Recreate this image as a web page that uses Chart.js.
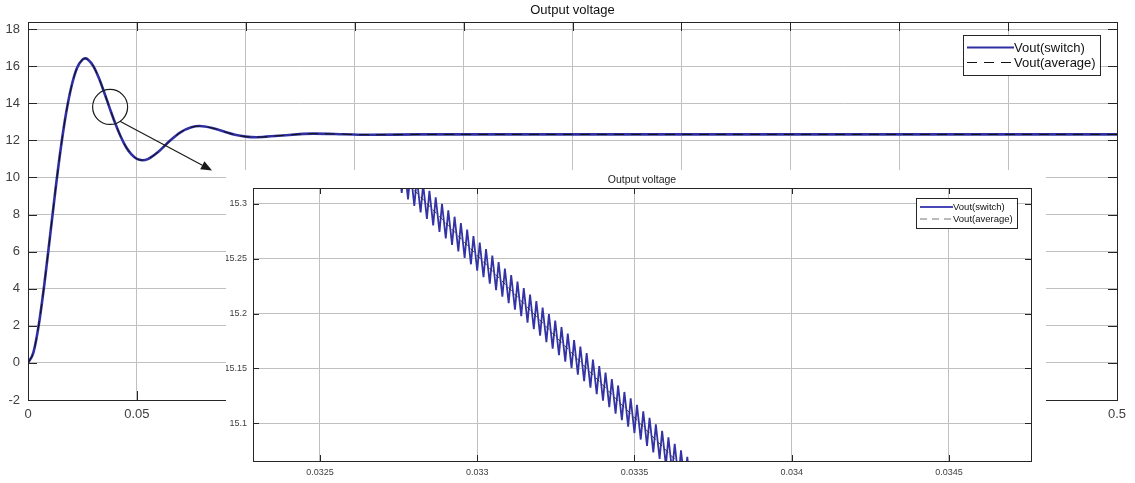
<!DOCTYPE html>
<html>
<head>
<meta charset="utf-8">
<title>Output voltage</title>
<script src="https://cdn.jsdelivr.net/npm/chart.js@4.4.1/dist/chart.umd.min.js"></script>
<style>
  body { margin: 0; background: #fff; }
  #wrap { position: relative; width: 1135px; height: 483px; }
  #wrap canvas { display: block; }
  #inset { position: absolute; left: 226px; top: 170px; width: 820px; height: 313px; background: #fff; }
</style>
</head>
<body>
<div id="wrap">
  <canvas id="mainChart" width="1135" height="483"></canvas>
  <div id="inset"><canvas id="zoomChart" width="820" height="313"></canvas></div>
</div>
<script>
// main plot: output voltage over the whole run (s, V)
const tMain = [0, 0.0025, 0.005, 0.0075, 0.01, 0.0125, 0.015, 0.0175, 0.02, 0.0225,
  0.025, 0.0263, 0.0275, 0.03, 0.0325, 0.035, 0.0375, 0.04, 0.0425, 0.045,
  0.0475, 0.05, 0.0525, 0.055, 0.06, 0.065, 0.07, 0.075, 0.0787, 0.085,
  0.09, 0.095, 0.1, 0.105, 0.115, 0.131, 0.145, 0.157, 0.18, 0.2,
  0.25, 0.3, 0.35, 0.4, 0.45, 0.5];
const vSwitch = [0, 0.57, 2.09, 4.24, 6.71, 9.22, 11.53, 13.47, 14.93, 15.9,
  16.35, 16.42, 16.36, 16.0, 15.37, 14.58, 13.74, 12.93, 12.22, 11.64,
  11.24, 11.0, 10.93, 10.99, 11.4, 11.96, 12.43, 12.7, 12.77, 12.65,
  12.47, 12.3, 12.2, 12.17, 12.25, 12.36, 12.33, 12.3, 12.32, 12.32,
  12.32, 12.32, 12.32, 12.32, 12.32, 12.32];
// the averaged model sits on top of the switched one at this scale
const vAverage = vSwitch;

// zoomed view around t = 33 ms: switched model, trough then peak of each cycle
const tRipple = [
  0.032700, 0.032708, 0.032720, 0.032728, 0.032740, 0.032748, 0.032760, 0.032768,
  0.032780, 0.032788, 0.032800, 0.032808, 0.032820, 0.032828, 0.032840, 0.032848,
  0.032860, 0.032868, 0.032880, 0.032888, 0.032900, 0.032908, 0.032920, 0.032928,
  0.032940, 0.032948, 0.032960, 0.032968, 0.032980, 0.032988, 0.033000, 0.033008,
  0.033020, 0.033028, 0.033040, 0.033048, 0.033060, 0.033068, 0.033080, 0.033088,
  0.033100, 0.033108, 0.033120, 0.033128, 0.033140, 0.033148, 0.033160, 0.033168,
  0.033180, 0.033188, 0.033200, 0.033208, 0.033220, 0.033228, 0.033240, 0.033248,
  0.033260, 0.033268, 0.033280, 0.033288, 0.033300, 0.033308, 0.033320, 0.033328,
  0.033340, 0.033348, 0.033360, 0.033368, 0.033380, 0.033388, 0.033400, 0.033408,
  0.033420, 0.033428, 0.033440, 0.033448, 0.033460, 0.033468, 0.033480, 0.033488,
  0.033500, 0.033508, 0.033520, 0.033528, 0.033540, 0.033548, 0.033560, 0.033568,
  0.033580, 0.033588, 0.033600, 0.033608, 0.033620, 0.033628, 0.033640, 0.033648,
  0.033660, 0.033668, 0.033680, 0.033688, 0.033700, 0.033708];
const vRipple = [
  15.32780, 15.35343, 15.32188, 15.34751, 15.31596, 15.34159, 15.31004, 15.33567,
  15.30412, 15.32975, 15.29820, 15.32383, 15.29228, 15.31791, 15.28636, 15.31199,
  15.28044, 15.30607, 15.27452, 15.30015, 15.26860, 15.29423, 15.26268, 15.28831,
  15.25676, 15.28239, 15.25084, 15.27647, 15.24492, 15.27055, 15.23900, 15.26463,
  15.23308, 15.25871, 15.22716, 15.25279, 15.22124, 15.24687, 15.21532, 15.24095,
  15.20940, 15.23503, 15.20348, 15.22911, 15.19756, 15.22319, 15.19164, 15.21727,
  15.18572, 15.21135, 15.17980, 15.20543, 15.17388, 15.19951, 15.16796, 15.19359,
  15.16204, 15.18767, 15.15612, 15.18175, 15.15020, 15.17583, 15.14428, 15.16991,
  15.13836, 15.16399, 15.13244, 15.15807, 15.12652, 15.15215, 15.12060, 15.14623,
  15.11468, 15.14031, 15.10876, 15.13439, 15.10284, 15.12847, 15.09692, 15.12255,
  15.09100, 15.11663, 15.08508, 15.11071, 15.07916, 15.10479, 15.07324, 15.09887,
  15.06732, 15.09295, 15.06140, 15.08703, 15.05548, 15.08111, 15.04956, 15.07519,
  15.04364, 15.06927, 15.03772, 15.06335, 15.03180, 15.05743];
const tAvgZoom = [0.0327, 0.0337];
const vAvgZoom = [15.3418, 15.0458];

const labels = ['Vout(switch)', 'Vout(average)'];

const FONT = '"Liberation Sans", Arial, Helvetica, sans-serif';
Chart.defaults.font.family = FONT;
Chart.defaults.color = '#404040';

function pts(xs, ys) {
  return xs.map((x, i) => ({ x: x, y: ys[i] }));
}
function fmt(v) {
  return String(+Number(v).toFixed(4));
}

// axes box with inward tick marks, like the MATLAB figure
const matlabBox = {
  id: 'matlabBox',
  afterDatasetsDraw(chart, args, o) {
    const { ctx, chartArea: a, scales } = chart;
    ctx.save();
    ctx.strokeStyle = '#262626';
    ctx.lineWidth = 1;
    ctx.beginPath();
    scales.x.ticks.forEach(t => {
      const px = Math.round(scales.x.getPixelForValue(t.value)) + 0.5;
      ctx.moveTo(px, a.bottom); ctx.lineTo(px, a.bottom - o.len);
      ctx.moveTo(px, a.top); ctx.lineTo(px, a.top + o.len);
    });
    scales.y.ticks.forEach(t => {
      const py = Math.round(scales.y.getPixelForValue(t.value)) + 0.5;
      ctx.moveTo(a.left, py); ctx.lineTo(a.left + o.len, py);
      ctx.moveTo(a.right, py); ctx.lineTo(a.right - o.len, py);
    });
    ctx.stroke();
    ctx.strokeRect(Math.round(a.left) + 0.5, Math.round(a.top) + 0.5,
      Math.round(a.right - a.left), Math.round(a.bottom - a.top));
    ctx.restore();
  }
};

// framed legend in the upper right corner of the axes
const boxLegend = {
  id: 'boxLegend',
  afterDraw(chart, args, o) {
    const { ctx, chartArea: a } = chart;
    const sets = chart.data.datasets;
    ctx.save();
    ctx.font = o.size + 'px ' + FONT;
    const textW = Math.max(...sets.map(d => ctx.measureText(d.label).width));
    const w = o.pad + o.sample + textW + o.pad;
    const h = o.rowH * sets.length + o.vpad * 2;
    const x = Math.round(a.right - o.right - w), y = Math.round(a.top + o.top);
    ctx.fillStyle = '#fff';
    ctx.fillRect(x, y, w, h);
    ctx.strokeStyle = '#262626';
    ctx.lineWidth = 1;
    ctx.strokeRect(x + 0.5, y + 0.5, Math.round(w), Math.round(h));
    sets.forEach((d, i) => {
      const cy = y + o.vpad + o.rowH * (i + 0.5);
      ctx.beginPath();
      ctx.strokeStyle = o.colors[i];
      ctx.lineWidth = o.widths[i];
      ctx.setLineDash(o.dashes[i]);
      ctx.moveTo(x + o.pad, cy);
      ctx.lineTo(x + o.pad + o.sample, cy);
      ctx.stroke();
      ctx.setLineDash([]);
      ctx.fillStyle = '#111';
      ctx.textBaseline = 'middle';
      ctx.fillText(d.label, x + o.pad + o.sample, cy + 0.5);
    });
    ctx.restore();
  }
};

// circle on the curve and the arrow pointing to the zoomed view
const zoomMark = {
  id: 'zoomMark',
  afterDatasetsDraw(chart, args, o) {
    const { ctx, scales: { x, y } } = chart;
    const cx = x.getPixelForValue(o.circle[0]), cy = y.getPixelForValue(o.circle[1]);
    const x0 = x.getPixelForValue(o.from[0]), y0 = y.getPixelForValue(o.from[1]);
    const x1 = x.getPixelForValue(o.to[0]), y1 = y.getPixelForValue(o.to[1]);
    ctx.save();
    ctx.strokeStyle = '#1a1a1a';
    ctx.fillStyle = '#1a1a1a';
    ctx.lineWidth = 1.2;
    ctx.beginPath();
    ctx.arc(cx, cy, o.radius, 0, Math.PI * 2);
    ctx.stroke();
    const ang = Math.atan2(y1 - y0, x1 - x0);
    const hl = 11, hw = 4.5;
    const bx = x1 - hl * Math.cos(ang), by = y1 - hl * Math.sin(ang);
    ctx.beginPath();
    ctx.moveTo(x0, y0);
    ctx.lineTo(bx, by);
    ctx.stroke();
    ctx.beginPath();
    ctx.moveTo(x1, y1);
    ctx.lineTo(bx + hw * Math.sin(ang), by - hw * Math.cos(ang));
    ctx.lineTo(bx - hw * Math.sin(ang), by + hw * Math.cos(ang));
    ctx.closePath();
    ctx.fill();
    ctx.restore();
  }
};

const mainChart = new Chart(document.getElementById('mainChart'), {
  type: 'line',
  data: {
    datasets: [
      {
        label: labels[0],
        data: pts(tMain, vSwitch),
        borderColor: '#2f2fa2',
        borderWidth: 2.6,
        pointRadius: 0,
        cubicInterpolationMode: 'monotone',
        order: 2
      },
      {
        label: labels[1],
        data: pts(tMain, vAverage),
        borderColor: '#111',
        borderWidth: 1,
        borderDash: [10, 7],
        pointRadius: 0,
        cubicInterpolationMode: 'monotone',
        order: 1
      }
    ]
  },
  options: {
    responsive: false,
    animation: false,
    layout: { padding: { left: 0, right: 18, top: 0, bottom: 0 } },
    scales: {
      x: {
        type: 'linear',
        min: 0,
        max: 0.5,
        afterFit: s => { s.height = 83; },
        grid: { color: '#c0c0c0', drawTicks: false },
        border: { display: false },
        ticks: { stepSize: 0.05, autoSkip: false, maxRotation: 0, padding: 7,
          font: { size: 13 }, callback: fmt }
      },
      y: {
        min: -2,
        max: 18.38,
        afterFit: s => { s.width = 28; },
        grid: { color: '#c0c0c0', drawTicks: false },
        border: { display: false },
        ticks: { stepSize: 2, includeBounds: false, padding: 8, font: { size: 13 } }
      }
    },
    plugins: {
      title: {
        display: true,
        text: 'Output voltage',
        fullSize: false,
        color: '#111',
        font: { size: 13, weight: 'normal' },
        padding: { top: 3, bottom: 3.4 }
      },
      legend: { display: false },
      tooltip: { enabled: false },
      matlabBox: { len: 9 },
      boxLegend: {
        right: 17, top: 13, size: 13, pad: 4, sample: 47, rowH: 15, vpad: 5,
        colors: ['#2f2fa2', '#111'], widths: [2.2, 1], dashes: [[], [10, 7]]
      },
      zoomMark: {
        circle: [0.0377, 13.8], radius: 17.5,
        from: [0.0422, 13.03], to: [0.0845, 10.38]
      }
    }
  },
  plugins: [matlabBox, zoomMark, boxLegend]
});

const zoomChart = new Chart(document.getElementById('zoomChart'), {
  type: 'line',
  data: {
    datasets: [
      {
        label: labels[0],
        data: pts(tRipple, vRipple),
        borderColor: '#3333a6',
        borderWidth: 1.8,
        pointRadius: 0,
        tension: 0,
        clip: 0,
        order: 2
      },
      {
        label: labels[1],
        data: pts(tAvgZoom, vAvgZoom),
        borderColor: '#222',
        borderWidth: 0.9,
        borderDash: [5, 4],
        pointRadius: 0,
        clip: 0,
        order: 1
      }
    ]
  },
  options: {
    responsive: false,
    animation: false,
    layout: { padding: { left: 0, right: 15, top: 0, bottom: 0 } },
    scales: {
      x: {
        type: 'linear',
        min: 0.032287,
        max: 0.034761,
        afterFit: s => { s.height = 22; },
        grid: { color: '#c0c0c0', drawTicks: false },
        border: { display: false },
        ticks: { stepSize: 0.0005, includeBounds: false, autoSkip: false, maxRotation: 0,
          padding: 6, font: { size: 9 }, callback: fmt }
      },
      y: {
        min: 15.0655,
        max: 15.3145,
        afterFit: s => { s.width = 27; },
        grid: { color: '#c0c0c0', drawTicks: false },
        border: { display: false },
        ticks: { stepSize: 0.05, includeBounds: false, padding: 6, font: { size: 9 }, callback: fmt }
      }
    },
    plugins: {
      title: {
        display: true,
        text: 'Output voltage',
        fullSize: false,
        color: '#222',
        font: { size: 10.5, weight: 'normal' },
        padding: { top: 4, bottom: 1.4 }
      },
      legend: { display: false },
      tooltip: { enabled: false },
      matlabBox: { len: 6 },
      boxLegend: {
        right: 14, top: 10, size: 9.5, pad: 4, sample: 33, rowH: 12, vpad: 3,
        colors: ['#4848b8', '#777'], widths: [2, 1], dashes: [[], [7, 5]]
      }
    }
  },
  plugins: [matlabBox, boxLegend]
});
</script>
</body>
</html>
